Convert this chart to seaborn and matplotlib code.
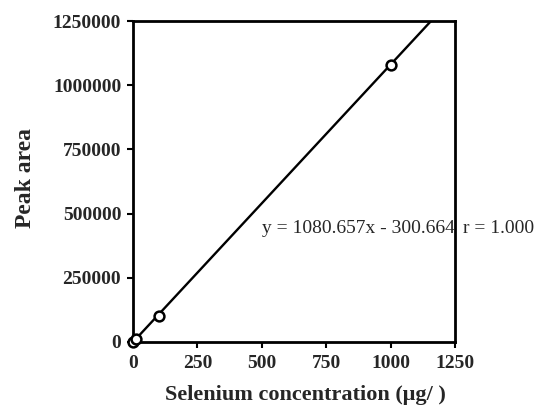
import matplotlib
matplotlib.use("Agg")
import matplotlib.pyplot as plt
import seaborn as sns
import numpy as np
import pandas as pd

# Data
concentration = [0, 10, 100, 1000]
peak_area = [0, 13000, 103000, 1080000]
slope = 1080.657
intercept = -300.664
x_ticks = [0, 250, 500, 750, 1000, 1250]
y_ticks = [0, 250000, 500000, 750000, 1000000, 1250000]
equation_text = "y = 1080.657x - 300.664"
r_text = "r = 1.000"

sns.set_theme(style="white")
plt.rcParams['font.family'] = ['Liberation Serif', 'DejaVu Serif']

fig = plt.figure(figsize=(5.46, 4.08), dpi=100)
ax = fig.add_axes([133/546, 66/408, 322/546, 321/408])

df = pd.DataFrame({"x": concentration, "y": peak_area})
line_x = np.array([0, 1250])
line_df = pd.DataFrame({"x": line_x, "y": slope * line_x + intercept})

sns.lineplot(data=line_df, x="x", y="y", ax=ax, color="black", linewidth=1.7, zorder=3)
sns.scatterplot(data=df, x="x", y="y", ax=ax, s=50, facecolor="white",
                edgecolor="black", linewidth=1.8, zorder=5, clip_on=False)

ax.set_xlim(0, 1250)
ax.set_ylim(0, 1250000)
ax.set_xticks(x_ticks)
ax.set_yticks(y_ticks)
ax.set_xticklabels([str(t) for t in x_ticks], fontsize=14, fontweight="bold")
ax.set_yticklabels([str(t) for t in y_ticks], fontsize=14, fontweight="bold")
ax.tick_params(axis="both", direction="out", length=4.5, width=1.5, color="black",
               bottom=True, left=True, pad=4)
ax.tick_params(axis="x", pad=5)
for sp in ax.spines.values():
    sp.set_visible(True)
    sp.set_color("black")
    sp.set_linewidth(2)

ax.set_xlabel("Selenium concentration (μg/ )", fontsize=16, fontweight="bold")
ax.xaxis.set_label_coords(0.535, -0.135)
ax.set_ylabel("Peak area", fontsize=17, fontweight="bold")
ax.yaxis.set_label_coords(-0.30, 0.51)

ax.text(0.400, 0.355, equation_text, transform=ax.transAxes, fontsize=14,
        ha="left", va="center", clip_on=False)
ax.text(1.025, 0.355, r_text, transform=ax.transAxes, fontsize=14,
        ha="left", va="center", clip_on=False)

ax.grid(False)
fig.savefig("out.png", dpi=100, facecolor="white")
